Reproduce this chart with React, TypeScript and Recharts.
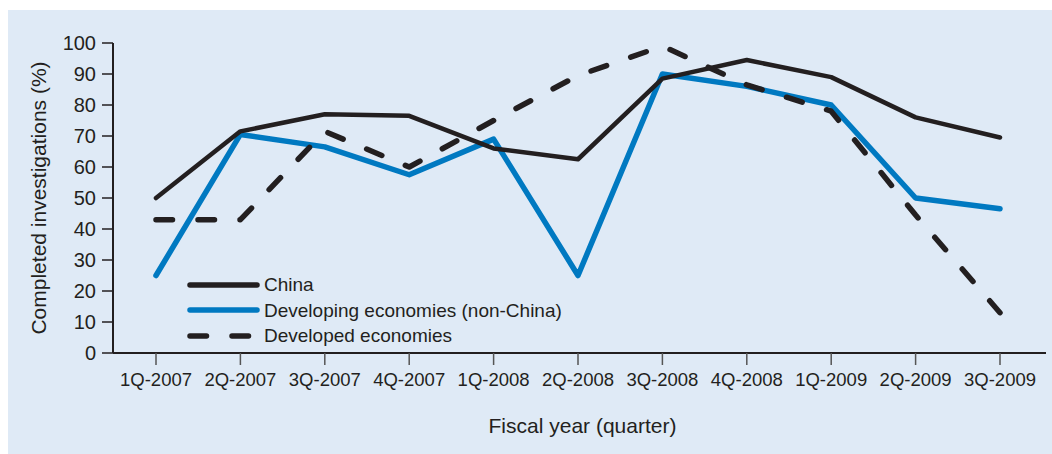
import React from 'react';
import { LineChart, Line, XAxis, YAxis } from 'recharts';

const quarters = ['1Q-2007', '2Q-2007', '3Q-2007', '4Q-2007', '1Q-2008', '2Q-2008', '3Q-2008', '4Q-2008', '1Q-2009', '2Q-2009', '3Q-2009'];
const china = [50, 71.5, 77, 76.5, 66, 62.5, 88.5, 94.5, 89, 76, 69.5];
const developing = [25, 70.5, 66.5, 57.5, 69, 25, 90, 86, 80, 50, 46.5];
const developed = [43, 43, 71.5, 60, 75, 89.5, 99, 86.5, 78, 44.5, 13];
const yTicks = [0, 10, 20, 30, 40, 50, 60, 70, 80, 90, 100];

const data = quarters.map((q, i) => ({
  quarter: q,
  china: china[i],
  developing: developing[i],
  developed: developed[i],
}));

const INK = '#231f20';
const BLUE = '#0079c1';
const FONT = '"Liberation Sans", Arial, sans-serif';

const SERIES = [
  { key: 'developing', name: 'Developing economies (non-China)', color: BLUE, width: 5.5, dash: undefined as string | undefined },
  { key: 'china', name: 'China', color: INK, width: 4.5, dash: undefined as string | undefined },
  { key: 'developed', name: 'Developed economies', color: INK, width: 5.5, dash: '16.5 25.5' },
];
const LEGEND_ORDER = ['china', 'developing', 'developed'];

const YTitle = (props: any) => {
  const { viewBox } = props;
  const cx = viewBox.x + 30;
  const cy = viewBox.y + viewBox.height / 2;
  return (
    <text x={cx} y={cy} transform={`rotate(-90 ${cx} ${cy})`} textAnchor="middle" dominantBaseline="central"
      fill={INK} fontSize={21} fontFamily={FONT}>
      Completed investigations (%)
    </text>
  );
};

const XTitle = (props: any) => {
  const { viewBox } = props;
  return (
    <text x={viewBox.x + viewBox.width / 2 + 3} y={viewBox.y + 80} textAnchor="middle"
      fill={INK} fontSize={21} fontFamily={FONT}>
      Fiscal year (quarter)
    </text>
  );
};

// legend sits inside the plot, lower left
const LegendBox = () => (
  <div style={{ position: 'absolute', left: 179, top: 262, fontFamily: FONT, fontSize: 19, color: INK, lineHeight: 1 }}>
    {LEGEND_ORDER.map(k => SERIES.find(s => s.key === k)!).map(s => (
      <div key={s.key} style={{ display: 'flex', alignItems: 'center', height: 25.5 }}>
        <svg width={77} height={12}>
          <line x1={3} y1={6} x2={s.dash ? 66 : 70} y2={6} stroke={s.color} strokeWidth={s.dash ? s.width : 5.5}
            strokeDasharray={s.dash} strokeLinecap="round" />
        </svg>
        <span>{s.name}</span>
      </div>
    ))}
  </div>
);

export default function App() {
  return (
    <div style={{ position: 'absolute', left: 8, top: 10, width: 1044, height: 444, background: '#dfeaf6' }}>
      <LineChart width={1044} height={444} data={data} margin={{ top: 33, right: 6, bottom: 21, left: 0 }}>
        <XAxis dataKey="quarter" height={80} padding={{ left: 43, right: 46 }}
          axisLine={{ stroke: INK, strokeWidth: 2 }} tickLine={{ stroke: '#555', strokeWidth: 1.5 }}
          tickSize={12} tickMargin={8} interval={0}
          tick={{ fill: INK, fontSize: 18.5, fontFamily: FONT }}
          label={<XTitle />} />
        <YAxis domain={[0, 100]} ticks={yTicks} width={105} interval={0}
          axisLine={{ stroke: INK, strokeWidth: 2 }} tickLine={{ stroke: INK, strokeWidth: 1.5 }}
          tickSize={11} tickMargin={6}
          tick={{ fill: INK, fontSize: 20, fontFamily: FONT }}
          label={<YTitle />} />
        {SERIES.map(s => (
          <Line key={s.key} dataKey={s.key} name={s.name} type="linear" stroke={s.color} strokeWidth={s.width}
            strokeDasharray={s.dash} strokeLinecap="round" strokeLinejoin="round"
            dot={false} activeDot={false} isAnimationActive={false} />
        ))}
      </LineChart>
      <LegendBox />
    </div>
  );
}
